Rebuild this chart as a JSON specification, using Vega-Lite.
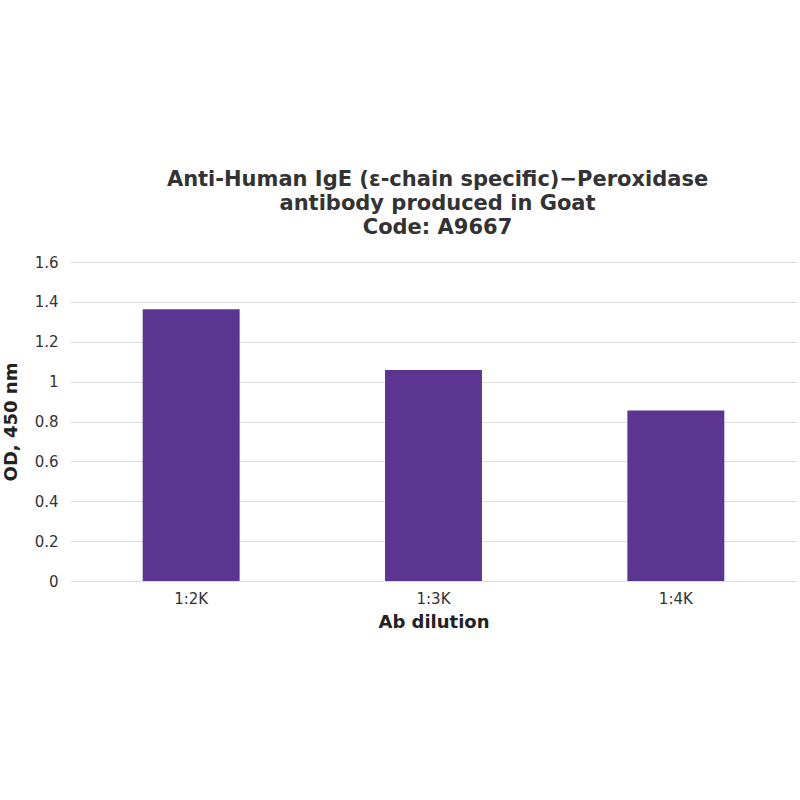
{
  "$schema": "https://vega.github.io/schema/vega-lite/v6.json",
  "autosize": {"type": "none"},
  "padding": {"left": 70, "top": 262, "right": 3, "bottom": 219},
  "width": 727,
  "height": 319,
  "background": "white",
  "config": {
    "font": "DejaVu Sans",
    "view": {"stroke": null}
  },
  "title": {
    "text": ["Anti-Human IgE (ε-chain specific)−Peroxidase", "antibody produced in Goat", "Code: A9667"],
    "fontSize": 21,
    "fontWeight": "bold",
    "color": "#333333",
    "lineHeight": 24,
    "offset": 17,
    "anchor": "middle",
    "dx": 4
  },
  "data": {
    "values": [
      {"dilution": "1:2K", "od": 1.363},
      {"dilution": "1:3K", "od": 1.058},
      {"dilution": "1:4K", "od": 0.855}
    ]
  },
  "mark": {"type": "bar", "color": "#5C3592"},
  "encoding": {
    "x": {
      "field": "dilution",
      "type": "nominal",
      "sort": null,
      "title": "Ab dilution",
      "scale": {"paddingInner": 0.6, "paddingOuter": 0.3},
      "axis": {
        "labelAngle": 0,
        "domain": false,
        "ticks": false,
        "labelFontSize": 15,
        "labelColor": "#333333",
        "labelPadding": 10,
        "titleFontSize": 18,
        "titleFontWeight": "bold",
        "titleColor": "#222222",
        "titlePadding": 7
      }
    },
    "y": {
      "field": "od",
      "type": "quantitative",
      "title": "OD, 450 nm",
      "scale": {"domain": [0, 1.6]},
      "axis": {
        "values": [0, 0.2, 0.4, 0.6, 0.8, 1, 1.2, 1.4, 1.6],
        "format": "~g",
        "domain": false,
        "ticks": false,
        "gridColor": "#dddddd",
        "labelFontSize": 15,
        "labelColor": "#333333",
        "labelPadding": 12,
        "titleFontSize": 18,
        "titleFontWeight": "bold",
        "titleColor": "#222222",
        "titlePadding": 14
      }
    }
  }
}
